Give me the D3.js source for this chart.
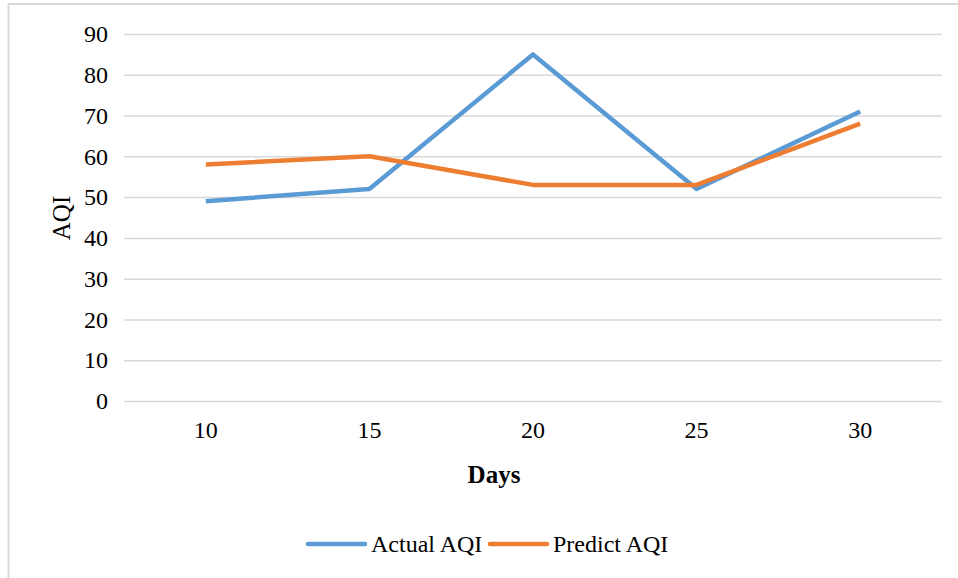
<html>

<head>
  <title>AQI line chart</title>
</head>
<style>
  body {
    margin: 0;
    background: white;
  }

  #chart svg {
    display: block;
  }

  text {
    font-family: "Liberation Serif", "Times New Roman", serif;
    fill: #000;
  }
</style>

<body>
  <div id="chart"></div>
</body>

<script src="https://cdn.jsdelivr.net/npm/d3@7"></script>
<script>

  // data
  let days = [10, 15, 20, 25, 30];
  let actualAQI = [49, 52, 85, 52, 71];
  let predictAQI = [58, 60, 53, 53, 68];
  let yTicks = [0, 10, 20, 30, 40, 50, 60, 70, 80, 90];
  let seriesNames = ["Actual AQI", "Predict AQI"];
  let seriesColors = ["#5B9BD5", "#ED7D31"];

  let width = 958, height = 578;
  let margin = { left: 124, right: 16, top: 34, bottom: 177 };

  let svg = d3.select("#chart").append("svg")
    .attr("width", width)
    .attr("height", height);

  // chart frame (only left + top edges visible in the picture)
  svg.append("line").attr("x1", 8.5).attr("x2", 8.5).attr("y1", 3).attr("y2", height)
    .attr("stroke", "#d9d9d9").attr("stroke-width", 2);
  svg.append("line").attr("x1", 8).attr("x2", width).attr("y1", 4).attr("y2", 4)
    .attr("stroke", "#d9d9d9").attr("stroke-width", 2);

  let x = d3.scaleBand()
    .domain(days)
    .range([margin.left, width - margin.right]);

  let y = d3.scaleLinear()
    .domain([0, 90])
    .range([height - margin.bottom, margin.top]);

  // gridlines + y labels
  let yAxis = d3.axisLeft(y)
    .tickValues(yTicks)
    .tickSize(-(width - margin.left - margin.right))
    .tickPadding(16);

  let gy = svg.append("g")
    .attr("transform", `translate(${margin.left},0)`)
    .call(yAxis);
  gy.select(".domain").remove();
  gy.selectAll(".tick line").attr("stroke", "#d9d9d9").attr("stroke-width", 1.5);
  gy.selectAll(".tick text").attr("font-size", 24).attr("font-family", "Liberation Serif");

  // x labels
  let xAxis = d3.axisBottom(x).tickSize(0).tickPadding(20);
  let gx = svg.append("g")
    .attr("transform", `translate(0,${height - margin.bottom})`)
    .call(xAxis);
  gx.select(".domain").remove();
  gx.selectAll(".tick text").attr("font-size", 24).attr("font-family", "Liberation Serif");

  // axis titles
  svg.append("text")
    .attr("x", 494).attr("y", 483)
    .attr("text-anchor", "middle")
    .attr("font-size", 25)
    .attr("font-weight", "bold")
    .text("Days");

  svg.append("text")
    .attr("transform", "translate(70,218) rotate(-90)")
    .attr("text-anchor", "middle")
    .attr("font-size", 25)
    .text("AQI");

  // lines
  let line = d3.line()
    .x((d, i) => x(days[i]) + x.bandwidth() / 2)
    .y(d => y(d));

  [actualAQI, predictAQI].forEach((s, i) => {
    svg.append("path")
      .datum(s)
      .attr("fill", "none")
      .attr("stroke", seriesColors[i])
      .attr("stroke-width", 4.5)
      .attr("stroke-linejoin", "round")
      .attr("d", line);
  });

  // legend
  let legendX = [308, 490];
  seriesNames.forEach((name, i) => {
    let g = svg.append("g").attr("transform", `translate(${legendX[i]},544)`);
    g.append("line")
      .attr("x1", 0).attr("x2", 57)
      .attr("stroke", seriesColors[i])
      .attr("stroke-width", 4.5)
      .attr("stroke-linecap", "round");
    g.append("text")
      .attr("x", 63).attr("y", 8)
      .attr("font-size", 24)
      .text(name);
  });

</script>

</html>
